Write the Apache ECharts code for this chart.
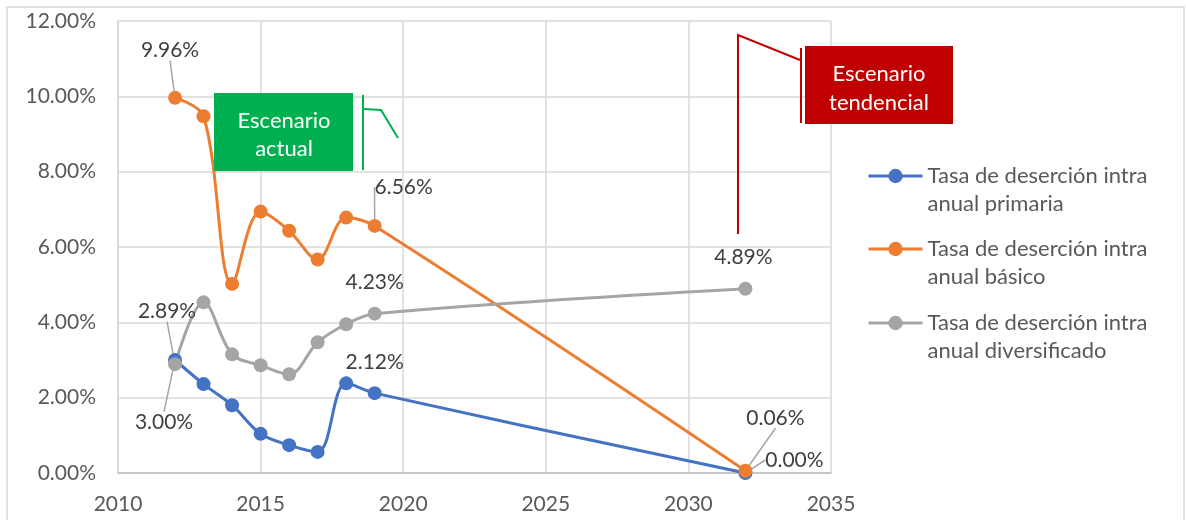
<!DOCTYPE html>
<html>
<head>
<meta charset="utf-8">
<script src="https://cdn.jsdelivr.net/npm/echarts@6/dist/echarts.min.js"></script>
<style>
  html, body { margin: 0; padding: 0; background: #fff; }
  #chart { width: 1186px; height: 520px; }
</style>
</head>
<body>
<div id="chart"></div>
<script>
// datos
const anios = [2012, 2013, 2014, 2015, 2016, 2017, 2018, 2019, 2032];
const primaria = [0.0300, 0.0236, 0.0180, 0.0104, 0.0074, 0.0056, 0.0238, 0.0212, 0.0000];
const basico = [0.0996, 0.0947, 0.0502, 0.0694, 0.0643, 0.0567, 0.0678, 0.0656, 0.0006];
const diversificado = [0.0289, 0.0453, 0.0315, 0.0286, 0.0262, 0.0347, 0.0395, 0.0423, 0.0489];
const nombres = [
    'Tasa de deserción intra anual primaria',
    'Tasa de deserción intra anual básico',
    'Tasa de deserción intra anual diversificado'
];
const ejeX = { min: 2010, max: 2035, intervalo: 5 };
const ejeY = { min: 0, max: 0.12, intervalo: 0.02 };

// puntos con etiqueta (indices) y donde va cada etiqueta respecto al punto
const puntosEtiqueta = [0, 7, 8];
const desplaz = [
    [[-11, 62], [0, -31], [49, -13]],
    [[-5, -48], [29, -39], [30, -53]],
    [[-8, -53], [0, -31], [-2, -32]]
];
const conGuia = [
    [true, false, true],
    [true, true, true],
    [true, false, false]
];

const colores = ['#4472C4', '#ED7D31', '#A5A5A5'];
const fuente = 'Lato, "Open Sans", sans-serif';

var chart = echarts.init(document.getElementById('chart'));

function armarSerie(idx, valores) {
    return {
        name: nombres[idx],
        type: 'line',
        smooth: 0.35,
        symbol: 'circle',
        symbolSize: 14,
        lineStyle: { width: 3, color: colores[idx] },
        itemStyle: { color: colores[idx] },
        label: {
            show: false,
            color: '#404040',
            fontSize: 21,
            fontFamily: fuente,
            formatter: p => (p.value[1] * 100).toFixed(2) + '%'
        },
        labelLine: { show: false, lineStyle: { color: '#A6A6A6', width: 1.5 } },
        labelLayout: function (p) {
            const k = puntosEtiqueta.indexOf(p.dataIndex);
            if (k < 0) return {};
            const d = desplaz[idx][k];
            return {
                x: p.rect.x + p.rect.width / 2 + d[0],
                y: p.rect.y + p.rect.height / 2 + d[1],
                align: 'center',
                verticalAlign: 'middle'
            };
        },
        data: anios.map((a, i) => {
            const item = { value: [a, valores[i]] };
            const k = puntosEtiqueta.indexOf(i);
            if (k >= 0) {
                item.label = { show: true };
                item.labelLine = { show: conGuia[idx][k] };
            }
            return item;
        })
    };
}

const topLeyenda = [129, 202, 276];

var option = {
    animation: false,
    backgroundColor: '#fff',
    grid: { left: 118, right: 355, top: 21, bottom: 47 },
    xAxis: {
        type: 'value',
        min: ejeX.min,
        max: ejeX.max,
        interval: ejeX.intervalo,
        axisLine: { show: true, lineStyle: { color: '#BFBFBF', width: 1.5 } },
        axisTick: { show: false },
        splitLine: { show: true, lineStyle: { color: '#D9D9D9', width: 1.5 } },
        axisLabel: {
            color: '#595959', fontSize: 21, fontFamily: fuente, margin: 21,
            formatter: v => String(v)
        }
    },
    yAxis: {
        type: 'value',
        min: ejeY.min,
        max: ejeY.max,
        interval: ejeY.intervalo,
        axisLine: { show: true, lineStyle: { color: '#D9D9D9', width: 1.5 } },
        axisTick: { show: false },
        splitLine: { show: true, lineStyle: { color: '#D9D9D9', width: 1.5 } },
        axisLabel: {
            color: '#595959', fontSize: 21, fontFamily: fuente, margin: 22,
            formatter: v => (v * 100).toFixed(2) + '%'
        }
    },
    legend: nombres.map((n, i) => ({
        data: [n],
        left: 862,
        top: topLeyenda[i],
        itemWidth: 54,
        itemHeight: 18,
        lineStyle: { width: 3 },
        // linea vacia arriba para que el icono quede a la altura del primer renglon
        formatter: name => '\n' + name.replace(' anual', '\nanual'),
        textStyle: {
            color: '#595959', fontSize: 22, fontFamily: fuente, lineHeight: 28
        }
    })),
    series: [
        armarSerie(0, primaria),
        armarSerie(1, basico),
        armarSerie(2, diversificado)
    ],
    graphic: [
        // borde del area del grafico
        { type: 'rect', silent: true, z: 100, shape: { x: 7, y: 7, width: 1177, height: 540 },
          style: { fill: null, stroke: '#D9D9D9', lineWidth: 1.5 } },
        // Escenario actual
        { type: 'rect', z: 100, shape: { x: 214, y: 93, width: 139, height: 78 }, style: { fill: '#00B050' } },
        { type: 'text', z: 101, x: 284, y: 135, style: {
            text: 'Escenario\nactual', fill: '#fff', fontSize: 22, fontFamily: fuente,
            align: 'center', verticalAlign: 'middle', lineHeight: 28 } },
        { type: 'polyline', z: 100, shape: { points: [[363, 95], [363, 170]] },
          style: { stroke: '#00B050', lineWidth: 2, fill: null } },
        { type: 'polyline', z: 100, shape: { points: [[364, 109], [381, 110], [398, 138]] },
          style: { stroke: '#00B050', lineWidth: 2, fill: null } },
        // Escenario tendencial
        { type: 'rect', z: 100, shape: { x: 805, y: 46, width: 148, height: 78 }, style: { fill: '#C00000' } },
        { type: 'text', z: 101, x: 879, y: 88, style: {
            text: 'Escenario\ntendencial', fill: '#fff', fontSize: 22, fontFamily: fuente,
            align: 'center', verticalAlign: 'middle', lineHeight: 29 } },
        { type: 'polyline', z: 100, shape: { points: [[738, 234], [738, 35], [800, 60]] },
          style: { stroke: '#C00000', lineWidth: 2, fill: null } },
        { type: 'polyline', z: 100, shape: { points: [[801, 48], [801, 123]] },
          style: { stroke: '#C00000', lineWidth: 2, fill: null } }
    ]
};

chart.setOption(option);
window.addEventListener('resize', chart.resize);
</script>
</body>
</html>
